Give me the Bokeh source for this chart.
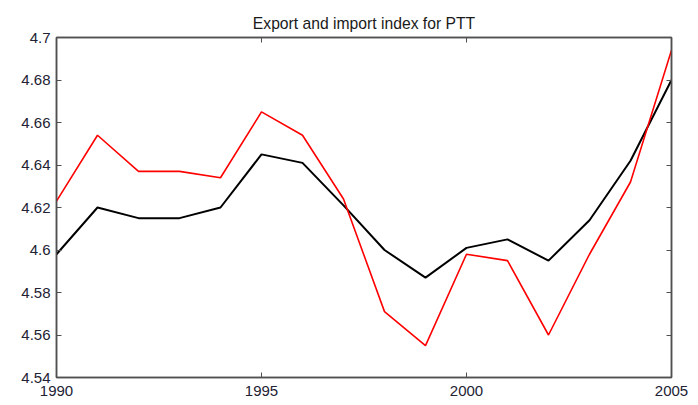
from bokeh.plotting import figure
from bokeh.models import LinearAxis, FixedTicker, Range1d
from bokeh.embed import file_html
from bokeh.resources import INLINE

years = list(range(1990, 2006))
export_index = [4.598, 4.620, 4.615, 4.615, 4.620, 4.645, 4.641, 4.621,
                4.600, 4.587, 4.601, 4.605, 4.595, 4.614, 4.642, 4.680]
import_index = [4.623, 4.654, 4.637, 4.637, 4.634, 4.665, 4.654, 4.624,
                4.571, 4.555, 4.598, 4.595, 4.560, 4.598, 4.632, 4.694]

x_ticks = [1990, 1995, 2000, 2005]
x_labels = ["1990", "1995", "2000", "2005"]
y_ticks = [4.54, 4.56, 4.58, 4.60, 4.62, 4.64, 4.66, 4.68, 4.70]
y_labels = ["4.54", "4.56", "4.58", "4.6", "4.62", "4.64", "4.66", "4.68", "4.7"]

FONT = "Liberation Sans"
AX = "#505050"

p = figure(width=698, height=405, output_backend="svg", toolbar_location=None,
           x_range=Range1d(1990, 2005), y_range=Range1d(4.54, 4.70),
           title="Export and import index for PTT",
           x_axis_type=None, y_axis_type=None)
p.min_border_left = 56
p.min_border_right = 27
p.min_border_top = 37
p.min_border_bottom = 28

p.title.align = "center"
p.title.text_font = FONT
p.title.text_font_size = "15.7px"
p.title.text_font_style = "normal"
p.title.text_color = "#1a1a1a"
p.title.standoff = 12

p.grid.visible = False
p.outline_line_color = AX
p.outline_line_width = 1.5
p.background_fill_color = "white"
p.border_fill_color = "white"

def make_axis(ticks, labels, show_labels):
    ax = LinearAxis(ticker=FixedTicker(ticks=ticks))
    if show_labels:
        ax.major_label_overrides = {t: l for t, l in zip(ticks, labels)}
    else:
        ax.major_label_overrides = {t: "" for t in ticks}
    ax.major_tick_in = 5
    ax.major_tick_out = 0
    ax.minor_tick_in = 0
    ax.minor_tick_out = 0
    ax.axis_line_color = AX
    ax.axis_line_width = 1.5
    ax.major_tick_line_color = AX
    ax.major_tick_line_width = 1
    ax.major_label_text_font = FONT
    ax.major_label_text_font_size = "15px"
    ax.major_label_text_color = "#222233"
    ax.major_label_standoff = 6 if show_labels else 0
    return ax

bottom = make_axis(x_ticks, x_labels, True)
bottom.major_label_standoff = 8
p.add_layout(bottom, "below")
p.add_layout(make_axis(y_ticks, y_labels, True), "left")
p.add_layout(make_axis(x_ticks, x_labels, False), "above")
p.add_layout(make_axis(y_ticks, y_labels, False), "right")

p.line(years, export_index, line_color="black", line_width=2)
p.line(years, import_index, line_color="red", line_width=1.6)

open("out.html", "w").write(file_html(p, INLINE))
